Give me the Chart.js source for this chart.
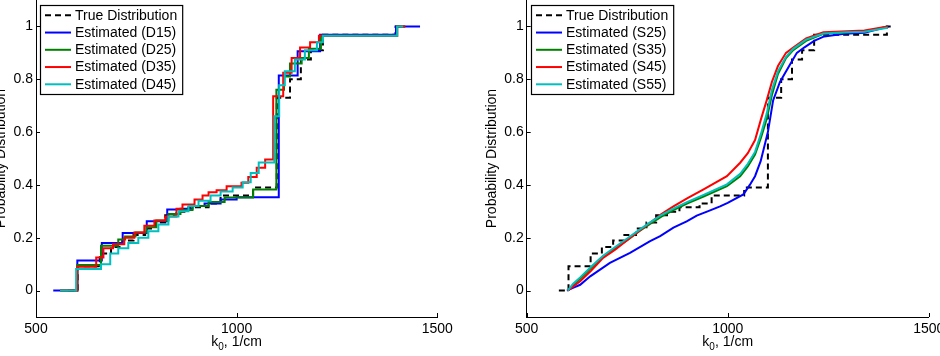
<!DOCTYPE html>
<html>
<head>
<meta charset="utf-8">
<script src="https://cdn.jsdelivr.net/npm/chart.js@4.4.1/dist/chart.umd.min.js"></script>
<style>
  html, body { margin: 0; padding: 0; background: #fff; }
  #wrap { position: relative; width: 940px; height: 356px; overflow: hidden; }
  .panel { position: absolute; top: 0; width: 470px; height: 356px; }
</style>
</head>
<body>
<div id="wrap">
  <div class="panel" style="left:0"><canvas id="left" width="470" height="356"></canvas></div>
  <div class="panel" style="left:470px"><canvas id="right" width="470" height="356"></canvas></div>
</div>
<script>
// axis ticks
const xTicks = [500, 1000, 1500];
const yTicks = [0, 0.2, 0.4, 0.6, 0.8, 1];

// true distribution (same in both panels), step values start at each x
const trueX = [580, 604, 659, 687, 715, 743, 772, 798, 822, 849, 880, 930, 960, 1041, 1100, 1133, 1160, 1185, 1215, 1396, 1412];
const trueY = [0, 0.092, 0.14, 0.165, 0.19, 0.21, 0.235, 0.258, 0.285, 0.298, 0.315, 0.33, 0.36, 0.39, 0.73, 0.80, 0.875, 0.91, 0.968, 1.0, 1.0];

// left panel: discrete estimates
const d15X = [543, 603, 664, 716, 776, 827, 860, 890, 920, 960, 1000, 1105, 1152, 1208, 1397, 1457];
const d15Y = [0, 0.114, 0.18, 0.218, 0.262, 0.307, 0.31, 0.32, 0.33, 0.345, 0.353, 0.814, 0.906, 0.968, 1.0, 1.0];
const d25X = [560, 603, 662, 705, 722, 748, 775, 800, 830, 860, 890, 930, 970, 1041, 1099, 1118, 1133, 1162, 1180, 1210, 1400, 1420];
const d25Y = [0, 0.097, 0.17, 0.193, 0.205, 0.22, 0.24, 0.265, 0.29, 0.305, 0.32, 0.335, 0.352, 0.383, 0.76, 0.81, 0.86, 0.88, 0.915, 0.965, 1.0, 1.0];
const d35X = [560, 603, 650, 668, 692, 720, 745, 770, 795, 822, 850, 865, 895, 915, 930, 950, 975, 1012, 1029, 1050, 1071, 1091, 1116, 1137, 1158, 1183, 1205, 1400, 1420];
const d35Y = [0, 0.09, 0.125, 0.16, 0.175, 0.2, 0.22, 0.245, 0.265, 0.28, 0.31, 0.326, 0.345, 0.36, 0.372, 0.38, 0.395, 0.408, 0.43, 0.465, 0.496, 0.736, 0.825, 0.88, 0.92, 0.94, 0.965, 1.0, 1.0];
const d45X = [560, 600, 662, 685, 705, 730, 755, 780, 805, 830, 855, 880, 905, 935, 960, 990, 1015, 1035, 1055, 1094, 1106, 1120, 1145, 1170, 1200, 1215, 1400, 1415];
const d45Y = [0, 0.082, 0.1, 0.14, 0.16, 0.18, 0.2, 0.225, 0.25, 0.28, 0.3, 0.32, 0.34, 0.36, 0.375, 0.39, 0.41, 0.445, 0.485, 0.66, 0.777, 0.83, 0.875, 0.91, 0.94, 0.965, 1.0, 1.0];

// right panel: smooth estimates
const s25X = [600, 615, 633, 658, 707, 757, 807, 832, 865, 898, 923, 950, 981, 1000, 1039, 1055, 1068, 1082, 1100, 1113, 1130, 1155, 1172, 1190, 1215, 1240, 1290, 1340, 1400];
const s25Y = [0, 0.01, 0.022, 0.054, 0.105, 0.143, 0.187, 0.206, 0.238, 0.262, 0.284, 0.3, 0.319, 0.332, 0.364, 0.4, 0.433, 0.49, 0.6, 0.72, 0.79, 0.856, 0.9, 0.92, 0.945, 0.962, 0.972, 0.976, 1.0];
const smoothX = [602, 615, 633, 660, 690, 720, 749, 780, 807, 835, 865, 900, 940, 998, 1031, 1050, 1068, 1083, 1097, 1110, 1125, 1145, 1163, 1195, 1238, 1296, 1340, 1398];
const s35Y = [0, 0.02, 0.045, 0.085, 0.128, 0.16, 0.19, 0.225, 0.252, 0.28, 0.305, 0.33, 0.356, 0.395, 0.433, 0.47, 0.515, 0.58, 0.65, 0.74, 0.82, 0.88, 0.91, 0.945, 0.972, 0.978, 0.98, 1.0];
const s45Y = [0, 0.015, 0.035, 0.075, 0.124, 0.155, 0.19, 0.226, 0.257, 0.29, 0.319, 0.35, 0.383, 0.433, 0.484, 0.52, 0.57, 0.65, 0.72, 0.79, 0.85, 0.9, 0.92, 0.955, 0.978, 0.982, 0.985, 1.0];
const s55Y = [0, 0.025, 0.05, 0.09, 0.132, 0.165, 0.196, 0.23, 0.258, 0.286, 0.31, 0.336, 0.362, 0.402, 0.442, 0.48, 0.525, 0.595, 0.67, 0.76, 0.83, 0.885, 0.915, 0.95, 0.973, 0.978, 0.98, 0.995];

const FONT = '"Liberation Sans", Arial, Helvetica, sans-serif';

const matlabPlugin = {
    id: 'matlab',
    afterDraw(chart, args, opts) {
        const {ctx, chartArea: a, scales: {x, y}} = chart;
        ctx.save();
        ctx.strokeStyle = '#000';
        ctx.lineWidth = 1;
        // inward tick marks
        ctx.beginPath();
        xTicks.forEach(v => {
            const px = Math.round(x.getPixelForValue(v)) + 0.5;
            ctx.moveTo(px, a.bottom);
            ctx.lineTo(px, a.bottom - 4);
        });
        yTicks.forEach(v => {
            const py = Math.round(y.getPixelForValue(v)) + 0.5;
            ctx.moveTo(a.left, py);
            ctx.lineTo(a.left + 4, py);
        });
        ctx.stroke();

        ctx.fillStyle = '#000';
        // x title: k with subscript 0
        ctx.font = '14px ' + FONT;
        const w1 = ctx.measureText('k').width;
        const w3 = ctx.measureText(', 1/cm').width;
        ctx.font = '10px ' + FONT;
        const w2 = ctx.measureText('0').width;
        let sx = (a.left + a.right) / 2 - (w1 + w2 + w3) / 2;
        ctx.textBaseline = 'alphabetic';
        ctx.textAlign = 'left';
        ctx.font = '14px ' + FONT;
        ctx.fillText('k', sx, 345.5);
        ctx.font = '10px ' + FONT;
        ctx.fillText('0', sx + w1, 350);
        ctx.font = '14px ' + FONT;
        ctx.fillText(', 1/cm', sx + w1 + w2, 345.5);

        // y title
        ctx.save();
        ctx.translate(opts.yTitleX, (a.top + a.bottom) / 2);
        ctx.rotate(-Math.PI / 2);
        ctx.textAlign = 'center';
        ctx.textBaseline = 'middle';
        ctx.fillText('Probability Distribution', 0, 0);
        ctx.restore();

        // legend box
        const ds = chart.data.datasets;
        ctx.font = '14px ' + FONT;
        const textW = Math.max(...ds.map(d => ctx.measureText(d.label).width));
        const bx = Math.round(a.left) + 4, by = 5, rowH = 17.25;
        const bw = 35 + textW + 5, bh = 89;
        ctx.fillStyle = '#fff';
        ctx.fillRect(bx, by, bw, bh);
        ctx.strokeStyle = '#000';
        ctx.lineWidth = 1.2;
        ctx.strokeRect(bx + 0.5, by + 0.5, bw, bh);
        ds.forEach((d, i) => {
            const cy = by + 10.3 + i * rowH;
            ctx.beginPath();
            ctx.setLineDash(d.borderDash);
            ctx.strokeStyle = d.borderColor;
            ctx.lineWidth = 2;
            ctx.moveTo(bx + 5, cy);
            ctx.lineTo(bx + 31, cy);
            ctx.stroke();
            ctx.setLineDash([]);
            ctx.fillStyle = '#000';
            ctx.textAlign = 'left';
            ctx.textBaseline = 'middle';
            ctx.fillText(d.label, bx + 35, cy + 0.5);
        });
        ctx.restore();
    }
};

function series(label, xs, ys, color, stepped, dash) {
    return {label, xs, ys, color, stepped, dash};
}

function makeChart(id, list, leftW, rightPad, yTitleX) {
    return new Chart(document.getElementById(id), {
        type: 'line',
        data: {
            datasets: list.map((d, i) => ({
                label: d.label,
                data: d.xs.map((xv, j) => ({x: xv, y: d.ys[j]})),
                borderColor: d.color,
                borderDash: d.dash || [],
                borderWidth: 2,
                pointRadius: 0,
                stepped: d.stepped,
                tension: 0,
                fill: false,
                order: list.length - i,
            }))
        },
        options: {
            responsive: false,
            animation: false,
            devicePixelRatio: 1,
            layout: {autoPadding: false, padding: {left: 0, right: rightPad, top: 0, bottom: 0}},
            plugins: {
                legend: {display: false},
                tooltip: {enabled: false},
                matlab: {yTitleX: yTitleX},
            },
            scales: {
                x: {
                    type: 'linear', min: 500, max: 1500,
                    afterBuildTicks: s => { s.ticks = xTicks.map(v => ({value: v})); },
                    afterFit: s => { s.height = 39; s.paddingLeft = 0; s.paddingRight = 0; },
                    grid: {display: false, drawTicks: false, tickLength: 0},
                    border: {display: true, color: '#000', width: 1},
                    ticks: {color: '#000', font: {family: FONT, size: 14}, padding: 3.5, maxRotation: 0, autoSkip: false, callback: v => String(v)},
                },
                y: {
                    type: 'linear', min: -0.1, max: 1.1,
                    afterBuildTicks: s => { s.ticks = yTicks.map(v => ({value: v})); },
                    afterFit: s => { s.width = leftW; s.paddingTop = 0; s.paddingBottom = 0; },
                    grid: {display: false, drawTicks: false, tickLength: 0},
                    border: {display: true, color: '#000', width: 1},
                    ticks: {color: '#000', font: {family: FONT, size: 14}, padding: 3, autoSkip: false, callback: v => String(v)},
                },
            },
        },
        plugins: [matlabPlugin],
    });
}

const dashed = [6, 4];

makeChart('left', [
    series('True Distribution', trueX, trueY, '#000000', true, dashed),
    series('Estimated (D15)', d15X, d15Y, '#0000ff', true),
    series('Estimated (D25)', d25X, d25Y, '#008000', true),
    series('Estimated (D35)', d35X, d35Y, '#ff0000', true),
    series('Estimated (D45)', d45X, d45Y, '#00bfbf', true),
], 36, 32.7, 1.6);

makeChart('right', [
    series('True Distribution', trueX, trueY, '#000000', true, dashed),
    series('Estimated (S25)', s25X, s25Y, '#0000ff', false),
    series('Estimated (S35)', smoothX, s35Y, '#008000', false),
    series('Estimated (S45)', smoothX, s45Y, '#ff0000', false),
    series('Estimated (S55)', smoothX, s55Y, '#00bfbf', false),
], 56.7, 11.3, 22.3);
</script>
</body>
</html>
